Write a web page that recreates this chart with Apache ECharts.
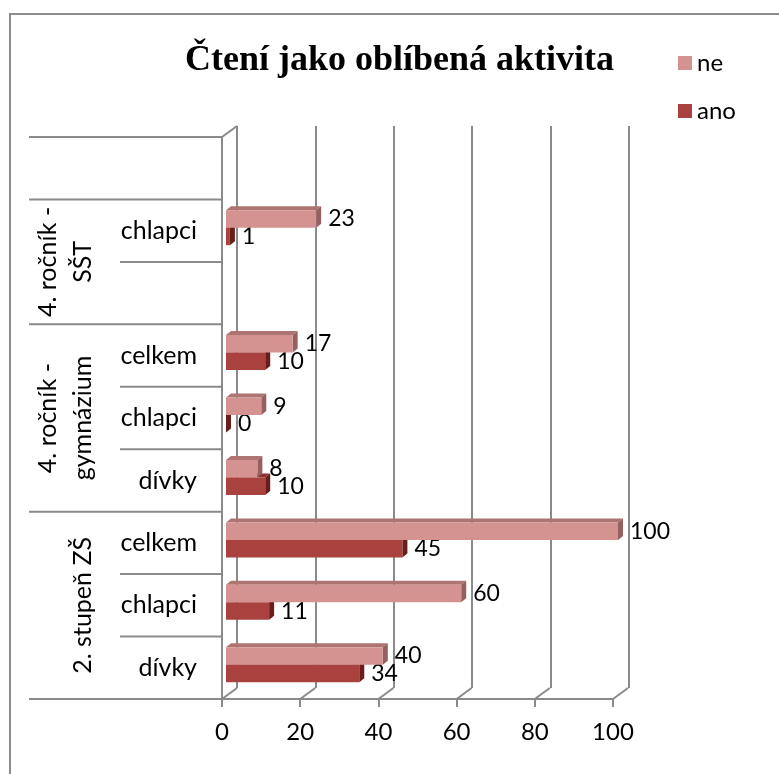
<!DOCTYPE html>
<html>
<head>
<meta charset="utf-8">
<script src="https://cdn.jsdelivr.net/npm/echarts@6/dist/echarts.min.js"></script>
<style>html,body{margin:0;padding:0;background:#fff;}#c{width:779px;height:774px;}</style>
</head>
<body>
<div id="c"></div>
<script>
// ---- data ----
const categories = ['2. stupeň ZŠ|dívky','2. stupeň ZŠ|chlapci','2. stupeň ZŠ|celkem',
  'gymnázium|dívky','gymnázium|chlapci','gymnázium|celkem',
  'SŠT|','SŠT|chlapci','prázdné|'];
const neValues  = [40, 60, 100, 8, 9, 17, null, 23, null];
const anoValues = [34, 11, 45, 10, 0, 10, null, 1, null];
const groupNames = ['2. stupeň ZŠ', '4. ročník -\ngymnázium', '4. ročník -\nSŠT', ''];
const groupSpans = [3, 3, 2, 1];
const xTicks = [0, 20, 40, 60, 80, 100];
const seriesNames = ['ne', 'ano'];
const titleText = 'Čtení jako oblíbená aktivita';

// ---- style ----
const FONT = 'Lato';
const GRID_COL = '#8a8a8a';
const NE_COL = '#D49391', NE_TOP = '#ad7471', NE_SIDE = '#966060';
const ANO_COL = '#A9423F', ANO_TOP = '#8a3230', ANO_SIDE = '#6a1e1c';
const BAR_W = 17.5, DX = 5, DY = 4;
const FDX = 15, FDY = 11;

const chart = echarts.init(document.getElementById('c'), null, {renderer: 'canvas'});

function pointsFor(arr) {
  const out = [];
  arr.forEach((v, i) => { if (v !== null && v !== undefined) out.push([v, i]); });
  return out;
}

function faceRenderer(isUpper, topColor, sideColor) {
  return function (params, api) {
    const v = api.value(0), idx = api.value(1);
    const c = api.coord([v, idx]);
    const c0 = api.coord([0, idx]);
    const yTop = isUpper ? c[1] - BAR_W : c[1];
    const yBot = yTop + BAR_W;
    const x0 = c0[0], x1 = c[0];
    return {
      type: 'group',
      children: [
        {type: 'polygon', shape: {points: [[x0, yTop], [x1, yTop], [x1 + DX, yTop - DY], [x0 + DX, yTop - DY]]}, style: {fill: topColor}},
        {type: 'polygon', shape: {points: [[x1, yTop], [x1, yBot], [x1 + DX, yBot - DY], [x1 + DX, yTop - DY]]}, style: {fill: sideColor}}
      ]
    };
  };
}

// group index ranges
const groupData = [];
let s = 0;
groupSpans.forEach((n, gi) => { groupData.push([s, s + n - 1, gi]); s += n; });

const lineStyle = {stroke: GRID_COL, lineWidth: 2};

function groupRenderer(params, api) {
  const start = api.value(0), end = api.value(1), gi = api.value(2);
  const band = api.size([0, 1])[1];
  const cS = api.coord([0, start]);
  const cE = api.coord([0, end]);
  const x = cS[0];
  const yBottom = cS[1] + band / 2;
  const yTop = cE[1] - band / 2;
  const children = [];
  children.push({type: 'line', shape: {x1: x - 193, y1: yBottom, x2: x, y2: yBottom}, style: lineStyle});
  if (gi === groupNames.length - 1) {
    children.push({type: 'line', shape: {x1: x - 193, y1: yTop, x2: x, y2: yTop}, style: lineStyle});
    children.push({type: 'line', shape: {x1: x, y1: yTop, x2: x + FDX, y2: yTop - FDY}, style: lineStyle});
  }
  for (let k = start + 1; k <= end; k++) {
    const y = api.coord([0, k])[1] + band / 2;
    children.push({type: 'line', shape: {x1: x - 102, y1: y, x2: x, y2: y}, style: lineStyle});
  }
  const name = groupNames[gi];
  if (name) {
    children.push({
      type: 'text', x: x - 122, y: (yTop + yBottom) / 2, rotation: Math.PI / 2,
      style: {text: name, align: 'center', verticalAlign: 'bottom', fontFamily: FONT, fontSize: 25, lineHeight: 35, fill: '#000'}
    });
  }
  return {type: 'group', children};
}

function floorRenderer(params, api) {
  const v = api.value(0);
  const band = api.size([0, 1])[1];
  const c = api.coord([v, 0]);
  const y = c[1] + band / 2;
  return {type: 'line', shape: {x1: c[0], y1: y, x2: c[0] + FDX, y2: y - FDY}, style: lineStyle};
}

const option = {
  backgroundColor: '#fff',
  animation: false,
  title: {
    text: titleText, left: 180, top: 38,
    textStyle: {fontFamily: 'Liberation Serif', fontWeight: 'bold', fontSize: 36, color: '#000'}
  },
  legend: {
    data: seriesNames, orient: 'vertical', left: 673, top: 46, itemGap: 24,
    itemWidth: 14, itemHeight: 14, icon: 'rect',
    textStyle: {fontFamily: FONT, fontSize: 24, color: '#000'}
  },
  graphic: [{type: 'rect', shape: {x: 10, y: 14, width: 800, height: 800}, style: {fill: 'none', stroke: '#8c8c8c', lineWidth: 2}, silent: true, z: -10}],
  grid: [
    {left: 237, top: 126, width: 392, height: 562},
    {left: 222, top: 137, width: 391, height: 562},
    {left: 226, top: 134, width: 392, height: 562}
  ],
  xAxis: [
    {gridIndex: 0, type: 'value', min: 0, max: 100, interval: 20,
      axisLine: {show: false}, axisTick: {show: false}, axisLabel: {show: false},
      splitLine: {show: true, lineStyle: {color: GRID_COL, width: 2}}},
    {gridIndex: 1, type: 'value', min: 0, max: 100, interval: 20,
      axisLine: {show: true, lineStyle: {color: GRID_COL, width: 2}},
      axisTick: {show: true, length: 8, lineStyle: {color: GRID_COL, width: 2}},
      axisLabel: {show: true, margin: 21, fontFamily: FONT, fontSize: 24, color: '#000',
        formatter: (v) => xTicks.includes(v) ? String(v) : ''},
      splitLine: {show: false}},
    {gridIndex: 2, type: 'value', min: 0, max: 100, show: false}
  ],
  yAxis: [
    {gridIndex: 0, type: 'category', data: categories, show: false},
    {gridIndex: 1, type: 'category', data: categories,
      axisLine: {show: true, lineStyle: {color: GRID_COL, width: 2}},
      axisTick: {show: false},
      axisLabel: {show: true, margin: 25, fontFamily: FONT, fontSize: 25, color: '#000',
        formatter: (v) => v.split('|')[1]},
      splitLine: {show: false}},
    {gridIndex: 2, type: 'category', data: categories, show: false}
  ],
  series: [
    {name: 'ano-3d', type: 'custom', xAxisIndex: 2, yAxisIndex: 2, data: pointsFor(anoValues),
      renderItem: faceRenderer(false, ANO_TOP, ANO_SIDE), silent: true, z: 2, clip: false},
    {name: 'ne', type: 'bar', xAxisIndex: 2, yAxisIndex: 2, data: neValues, barWidth: BAR_W, barGap: '0%',
      itemStyle: {color: NE_COL}, z: 3,
      label: {show: true, position: 'right', distance: 12, fontFamily: FONT, fontSize: 23, color: '#000'}},
    {name: 'ano', type: 'bar', xAxisIndex: 2, yAxisIndex: 2, data: anoValues, barWidth: BAR_W, barGap: '0%',
      itemStyle: {color: ANO_COL}, z: 2,
      label: {show: true, position: 'right', distance: 12, fontFamily: FONT, fontSize: 23, color: '#000'}},
    {name: 'ne-3d', type: 'custom', xAxisIndex: 2, yAxisIndex: 2, data: pointsFor(neValues),
      renderItem: faceRenderer(true, NE_TOP, NE_SIDE), silent: true, z: 3, clip: false},
    {name: 'groups', type: 'custom', xAxisIndex: 1, yAxisIndex: 1, data: groupData,
      renderItem: groupRenderer, silent: true, clip: false, z: 1},
    {name: 'floor', type: 'custom', xAxisIndex: 1, yAxisIndex: 1, data: xTicks.map(v => [v]),
      renderItem: floorRenderer, silent: true, clip: false, z: 1}
  ]
};
chart.setOption(option);
</script>
</body>
</html>
